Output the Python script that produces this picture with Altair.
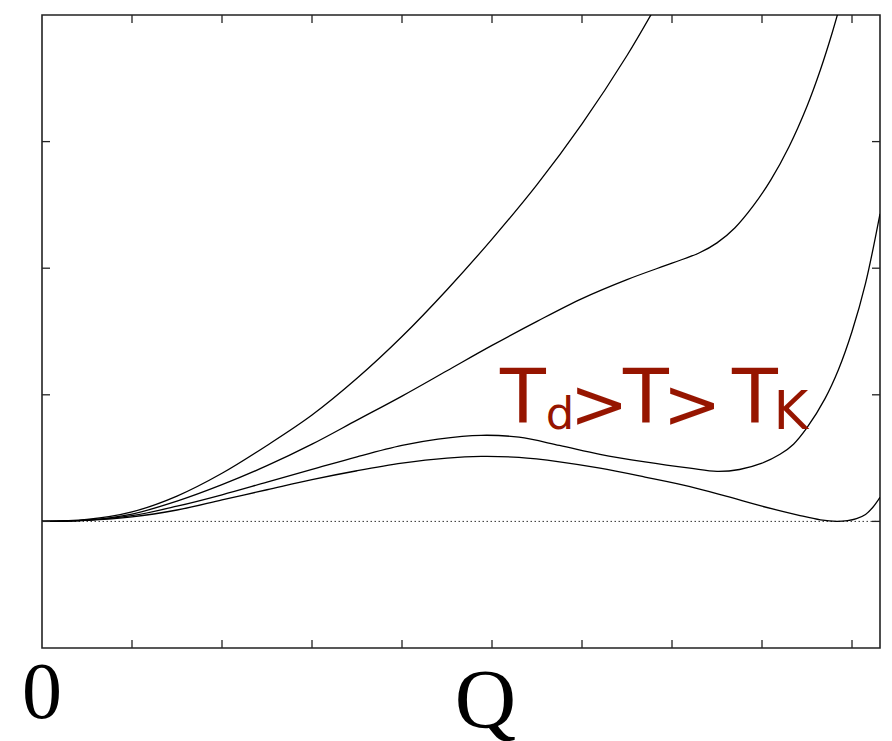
import altair as alt
import pandas as pd

# ---- data (in axis-tick units) ----
a_x = [0, 0.5, 1, 1.5, 2, 2.5, 3, 3.5, 4, 4.5, 5, 5.5, 6, 6.5, 6.9]
a_y = [0, 0.015, 0.075, 0.2, 0.38, 0.6, 0.84, 1.13, 1.46, 1.83, 2.23, 2.66, 3.14, 3.68, 4.17]

b_x = [0, 0.5, 1, 1.5, 2, 2.5, 3, 3.5, 4, 4.5, 5, 5.5, 6, 6.5, 7, 7.3, 7.5, 7.7, 7.9, 8.1, 8.3, 8.5, 8.65, 8.78, 8.9]
b_y = [0, 0.01, 0.058, 0.16, 0.29, 0.44, 0.61, 0.80, 0.99, 1.19, 1.39, 1.58, 1.76, 1.91, 2.04, 2.12, 2.20, 2.32, 2.49, 2.70, 2.96, 3.28, 3.57, 3.86, 4.16]

c_x = [0, 0.5, 1, 1.5, 2, 2.5, 3, 3.5, 4, 4.4, 4.88, 5.3, 5.75, 6.2, 6.7, 7.2, 7.5, 7.75, 8.0, 8.2, 8.35, 8.5, 8.7, 8.85, 9.0, 9.15, 9.311]
c_y = [0, 0.01, 0.045, 0.12, 0.21, 0.31, 0.41, 0.51, 0.60, 0.65, 0.68, 0.665, 0.60, 0.53, 0.47, 0.42, 0.395, 0.41, 0.46, 0.53, 0.61, 0.74, 0.97, 1.2, 1.5, 1.88, 2.43]

d_x = [0, 0.5, 1, 1.5, 2, 2.5, 3, 3.5, 4, 4.5, 4.88, 5.3, 5.75, 6.2, 6.7, 7.2, 7.6, 8.0, 8.4, 8.65, 8.83, 8.95, 9.05, 9.15, 9.23, 9.311]
d_y = [0, 0.008, 0.035, 0.09, 0.17, 0.25, 0.33, 0.40, 0.46, 0.50, 0.513, 0.505, 0.47, 0.42, 0.35, 0.275, 0.20, 0.12, 0.05, 0.012, 0.0, 0.006, 0.022, 0.055, 0.11, 0.19]

x_ticks = [1, 2, 3, 4, 5, 6, 7, 8, 9]
y_ticks = [0, 1, 2, 3]

X_MAX = 9.311
Y_MIN, Y_MAX = -1, 4

# annotation glyphs
glyphs = ["T", "d", ">", "T", ">", "T", "K"]
glyph_x = [5.344, 5.756, 6.189, 6.711, 7.222, 7.922, 8.322]
glyph_y = [0.782, 0.727, 0.735, 0.782, 0.735, 0.782, 0.727]
glyph_size = [75, 45, 70, 75, 70, 75, 53]

axis_labels = ["0", "Q"]
axis_label_x = [0, 4.928]
axis_label_y = [-1.556, -1.635]
axis_label_size = [80, 85]

# ---- build tables ----
rows = []
for name, xs_, ys_ in [("A", a_x, a_y), ("B", b_x, b_y), ("C", c_x, c_y), ("D", d_x, d_y)]:
    for i, (xv, yv) in enumerate(zip(xs_, ys_)):
        rows.append({"curve": name, "i": i, "x": xv, "y": yv})
curves = pd.DataFrame(rows)

W, H = 838, 633
xs = alt.Scale(domain=[0, X_MAX], nice=False, zero=False)
ys = alt.Scale(domain=[Y_MIN, Y_MAX], nice=False, zero=False)

lines = alt.Chart(curves).mark_line(
    color="black", strokeWidth=1.3, clip=True, interpolate="catmull-rom"
).encode(
    x=alt.X("x:Q", scale=xs, axis=None),
    y=alt.Y("y:Q", scale=ys, axis=None),
    detail="curve:N",
    order="i:Q",
)

zero_df = pd.DataFrame({"y": [0]})
zero_line = alt.Chart(zero_df).mark_rule(
    color="#333333", strokeWidth=1, strokeDash=[1.5, 2.5]
).encode(y=alt.Y("y:Q", scale=ys, axis=None))

xt = pd.DataFrame({"x": x_ticks})
yt = pd.DataFrame({"y": y_ticks})
TL = 8
tick_style = dict(color="#222222", strokeWidth=1.3)
bottom_ticks = alt.Chart(xt).mark_rule(**tick_style).encode(
    x=alt.X("x:Q", scale=xs, axis=None), y=alt.value(H), y2=alt.value(H - TL))
top_ticks = alt.Chart(xt).mark_rule(**tick_style).encode(
    x=alt.X("x:Q", scale=xs, axis=None), y=alt.value(0), y2=alt.value(TL))
left_ticks = alt.Chart(yt).mark_rule(**tick_style).encode(
    y=alt.Y("y:Q", scale=ys, axis=None), x=alt.value(0), x2=alt.value(TL))
right_ticks = alt.Chart(yt).mark_rule(**tick_style).encode(
    y=alt.Y("y:Q", scale=ys, axis=None), x=alt.value(W), x2=alt.value(W - TL))

gdf = pd.DataFrame({"t": glyphs, "x": glyph_x, "y": glyph_y, "s": glyph_size})
glyph_layers = []
for _, r in gdf.iterrows():
    glyph_layers.append(
        alt.Chart(pd.DataFrame([r])).mark_text(
            font="DejaVu Sans", fontSize=float(r["s"]), color="#961500",
            align="center", baseline="alphabetic"
        ).encode(
            x=alt.X("x:Q", scale=xs, axis=None),
            y=alt.Y("y:Q", scale=ys, axis=None),
            text="t:N",
        )
    )

ldf = pd.DataFrame({"t": axis_labels, "x": axis_label_x, "y": axis_label_y, "s": axis_label_size})
label_layers = []
for _, r in ldf.iterrows():
    label_layers.append(
        alt.Chart(pd.DataFrame([r])).mark_text(
            font="Liberation Serif", fontSize=float(r["s"]), color="black",
            align="center", baseline="alphabetic"
        ).encode(
            x=alt.X("x:Q", scale=xs, axis=None),
            y=alt.Y("y:Q", scale=ys, axis=None),
            text="t:N",
        )
    )

chart = alt.layer(
    zero_line, lines, bottom_ticks, top_ticks, left_ticks, right_ticks,
    *glyph_layers, *label_layers
).properties(
    width=W, height=H,
    autosize=alt.AutoSizeParams(type="none"),
    padding={"left": 42, "top": 15, "right": 12, "bottom": 93},
    background="white",
).configure_view(stroke="#222222", strokeWidth=1.6)

chart.save("out.html", embed_options={"renderer": "svg", "actions": False})
